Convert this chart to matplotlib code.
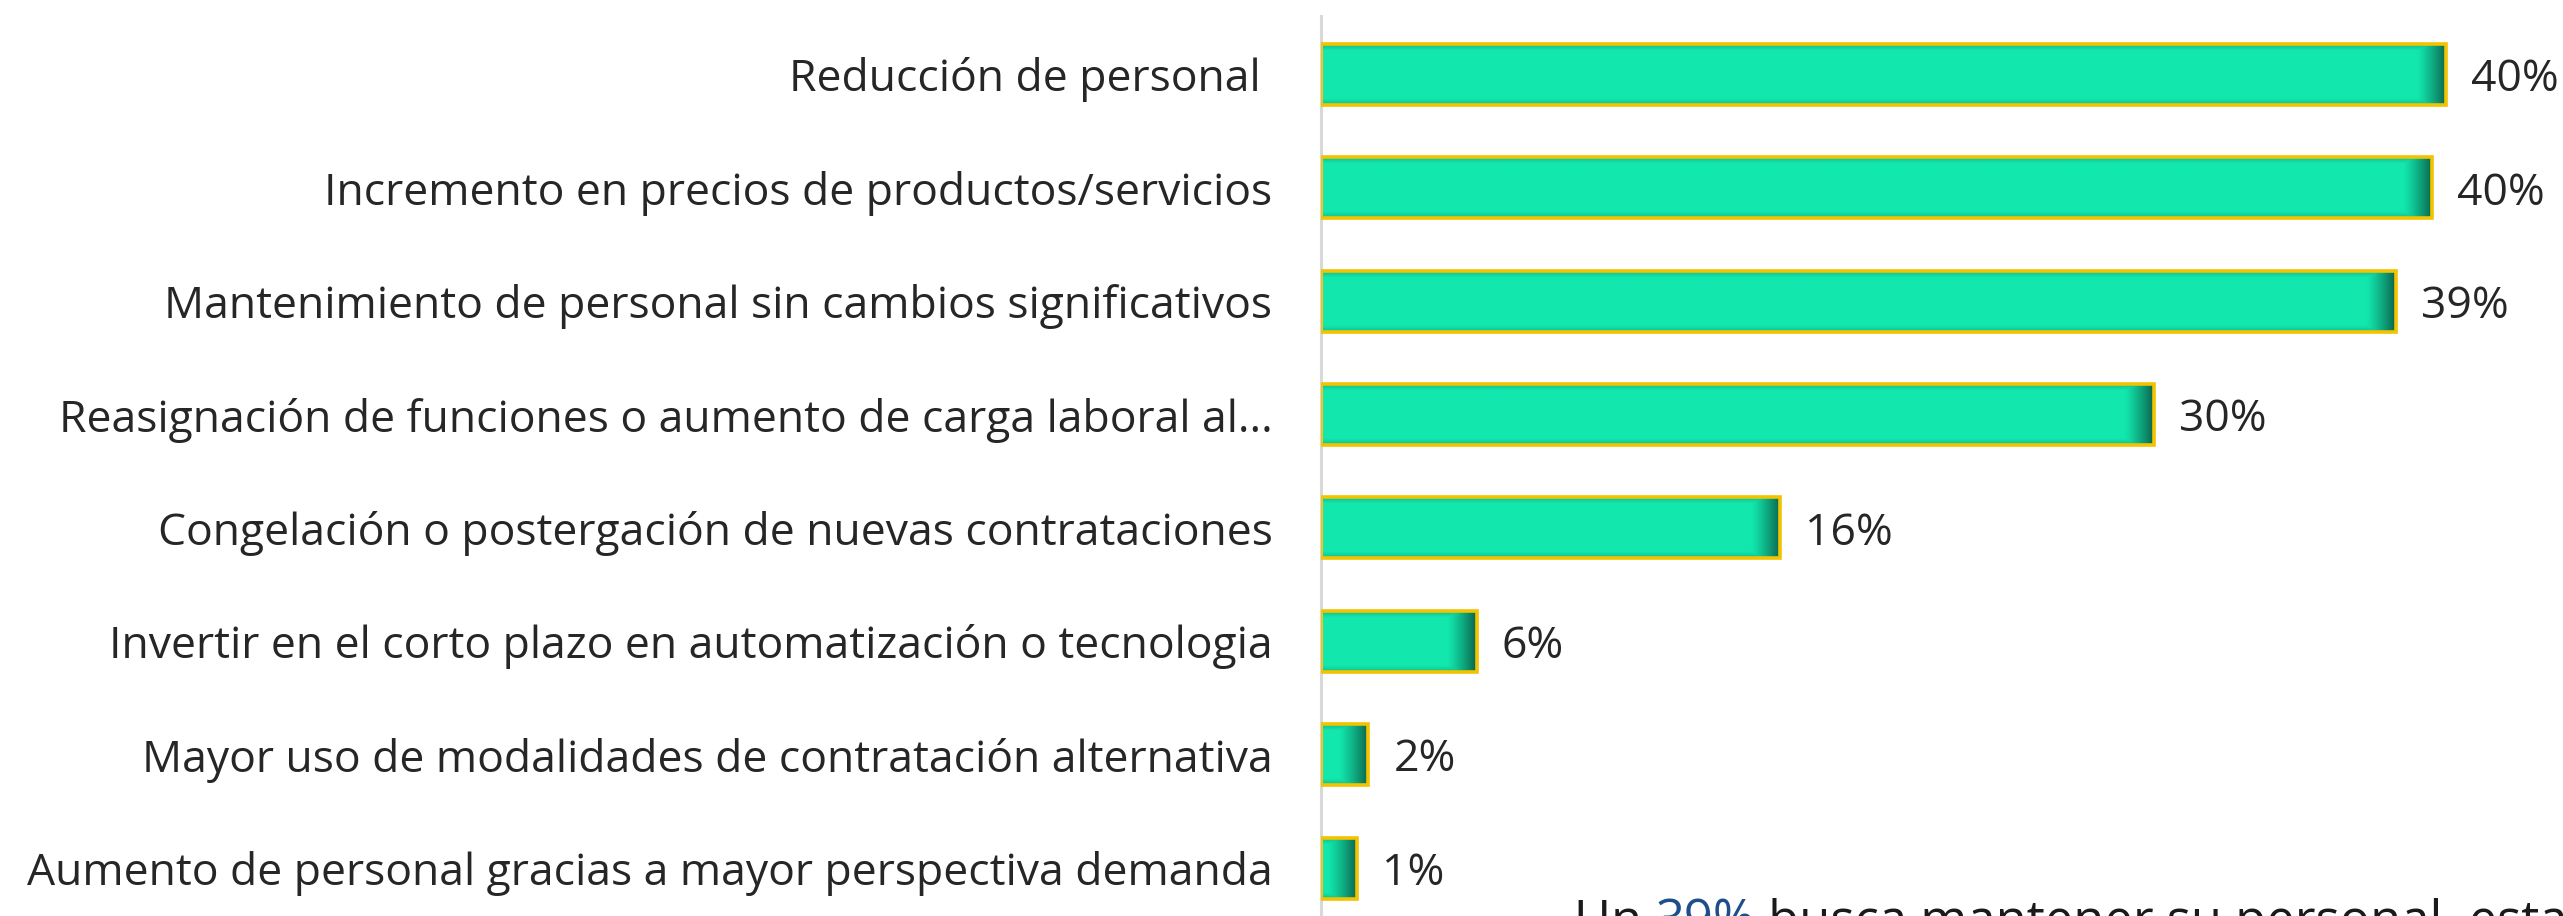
import matplotlib.pyplot as plt
import numpy as np

# data
categorias = [
    "Reducción de personal ",
    "Incremento en precios de productos/servicios",
    "Mantenimiento de personal sin cambios significativos",
    "Reasignación de funciones o aumento de carga laboral al...",
    "Congelación o postergación de nuevas contrataciones",
    "Invertir en el corto plazo en automatización o tecnologia",
    "Mayor uso de modalidades de contratación alternativa",
    "Aumento de personal gracias a mayor perspectiva demanda",
]
valores = [0.404, 0.399, 0.386, 0.299, 0.165, 0.056, 0.017, 0.013]

W, H = 2563, 916
FONT = "Open Sans"
plt.rcParams['font.family'] = [FONT, 'DejaVu Sans']

fig = plt.figure(figsize=(W / 100, H / 100), dpi=100)
ax = fig.add_axes([1321 / W, 0, (W - 1321) / W, 1 - 16 / H])

xmax = 0.446
px_per_unit = (W - 1321) / xmax
bar_h = 0.538
mint = np.array([0x12, 0xE8, 0xAE]) / 255
dark = np.array([0x0A, 0x5E, 0x48]) / 255

for i, v in enumerate(valores):
    ncol = max(int(v * px_per_unit), 4)
    nrow = 61
    dr = ncol - np.arange(ncol)
    th = np.clip(1 - dr / 30, 0, 1) ** 1.2
    rr = np.arange(nrow)
    de = np.minimum(rr, nrow - 1 - rr)
    tv = np.clip(1 - de / 6, 0, 1) * 0.3
    t = np.maximum(th[None, :], tv[:, None])
    img = mint * (1 - t[..., None]) + dark * t[..., None]
    ax.imshow(img, extent=(0, v, i + bar_h / 2, i - bar_h / 2),
              aspect='auto', interpolation='bilinear', zorder=2)

ax.barh(range(len(valores)), valores, height=bar_h, facecolor='none',
        edgecolor='#F2C300', linewidth=2.6, zorder=3)

for i, v in enumerate(valores):
    ax.text(v + 25 / px_per_unit, i, f"{v:.0%}", va='center_baseline', ha='left',
            fontsize=32, color='#262626', zorder=4)

ax.set_xlim(0, xmax)
ax.set_ylim(7.423, -0.516)
ax.set_yticks(range(len(categorias)))
ax.set_yticklabels(categorias, fontsize=32, color='#262626')
ax.tick_params(axis='y', length=0, pad=35)
ax.set_xticks([])
for s in ['top', 'right', 'bottom']:
    ax.spines[s].set_visible(False)
ax.spines['left'].set_color('#D9D9D9')
ax.spines['left'].set_linewidth(2.2)
ax.patch.set_alpha(0)

# bottom note, cut by the figure edge as in the reference
y0 = 1 - 937 / H
fs = 36.5
t1 = fig.text(1574 / W, y0, "Un ", fontsize=fs, color='#1A1A1A', ha='left', va='baseline')
fig.canvas.draw()
bb = t1.get_window_extent()
t2 = fig.text(bb.x1 / W, y0, "39%", fontsize=fs, color='#1F4E8C', ha='left', va='baseline')
bb = t2.get_window_extent()
fig.text(bb.x1 / W, y0, " busca mantener su personal, esta", fontsize=fs,
         color='#1A1A1A', ha='left', va='baseline')

fig.savefig("out.png", dpi=100)
